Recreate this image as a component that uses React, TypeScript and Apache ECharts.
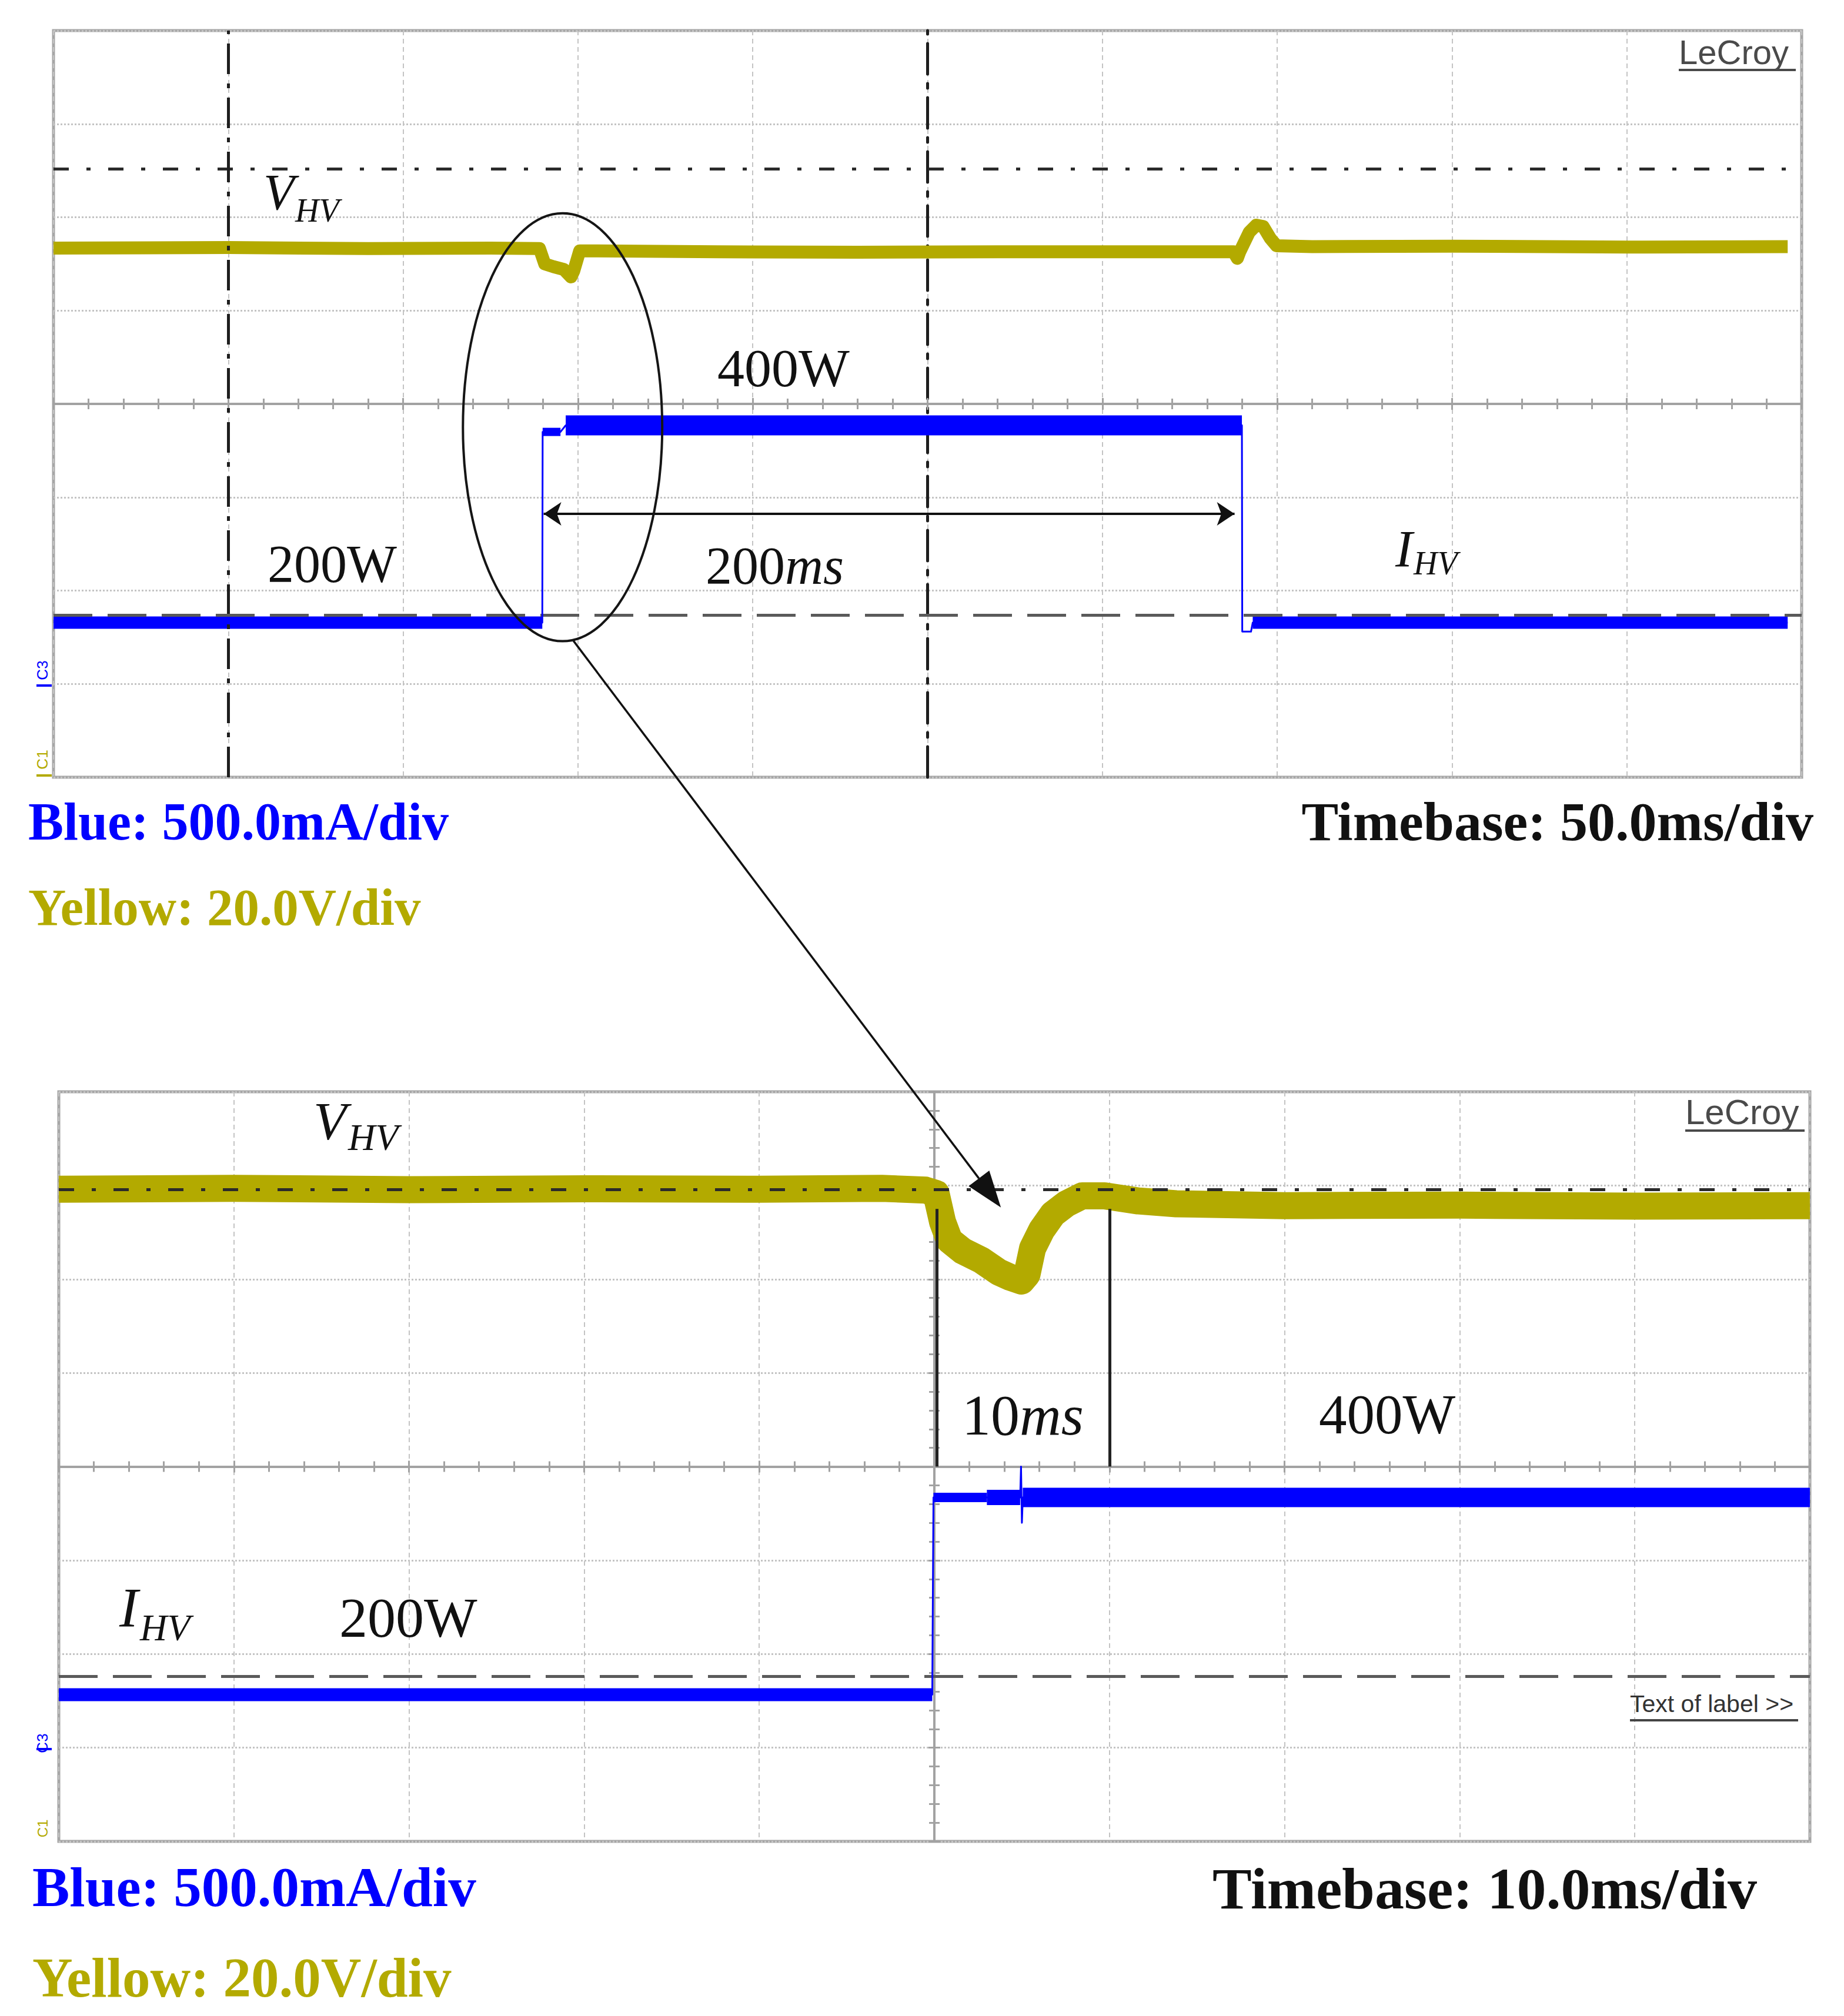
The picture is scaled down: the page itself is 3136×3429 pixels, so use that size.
import React, { useEffect, useRef } from "react";
import * as echarts from "echarts";

// ================= Top capture: Timebase 50 ms/div (time in ms, relative to screen centre) =================
const topTimeRange = [-250, 250];
const topTimeStep = 50;
const topVhvTime = [-250, -200, -160, -125, -111, -109.5, -107, -104, -102, -101.2, -99.5, -60, -20, 20, 60, 87.5, 88.6, 89.3, 92, 94, 96, 98, 99.8, 110, 150, 200, 246];
const topVhvVolt = [113.4, 113.5, 113.3, 113.4, 113.3, 110.0, 109.4, 108.8, 107.2, 108.5, 112.8, 112.6, 112.5, 112.6, 112.6, 112.6, 111.2, 112.6, 116.8, 118.3, 118.0, 115.5, 113.9, 113.7, 113.8, 113.6, 113.7];
const topIhvTime = [-250, -110.2, -110.1, -105, -103.5, 89.9, 90.0, 92.5, 93.0, 246];
const topIhvAmp = [0.328, 0.328, 1.35, 1.35, 1.385, 1.385, 0.28, 0.28, 0.328, 0.328];
const topVRefVolt = 130.3;
const topIRefAmp = 0.372;
const topCursorTime = -200;
const stepArrowTime = [-109.8, 87.8];
const stepArrowAmp = 0.911;
const ellipseCentre = [-104.4, 1.375];
const ellipseHalfSpan = [28.5, 1.146];
const zoomArrowFrom = [-101.3, 0.231]; // top capture (ms, A)
const zoomArrowTo = [3.8, 135.3]; // bottom capture (ms, V)

// ================= Bottom capture: Timebase 10 ms/div =================
const botTimeRange = [-50, 50];
const botTimeStep = 10;
const botVhvTime = [-50, -40, -30, -20, -10, -3, -0.5, 0.1, 0.47, 0.86, 1.63, 2.66, 3.68, 4.33, 4.97, 5.29, 5.61, 6.13, 6.77, 7.54, 8.44, 9.72, 11.65, 13.81, 20, 30, 40, 50];
const botVhvVolt = [139.2, 139.4, 139.1, 139.3, 139.2, 139.4, 139.0, 138.3, 132.2, 128.3, 126.0, 124.1, 121.5, 120.4, 119.6, 121.0, 126.6, 130.5, 133.9, 136.1, 137.8, 137.8, 136.7, 136.1, 135.7, 135.8, 135.6, 135.7];
const botIhvTime = [-50, -0.12, -0.05, 3, 4.9, 4.95, 5.0, 5.05, 50];
const botIhvAmp = [0.283, 0.283, 1.335, 1.335, 1.335, 1.50, 1.20, 1.335, 1.335];
const botVRefVolt = 139.2;
const botIRefAmp = 0.375;
const settleMarkTime = [0.15, 10.0];
const settleMarkVolt = [135, 80];

// ================= Vertical scales =================
const voltRange = [0, 160]; // 20 V/div x 8 div
const ampRange = [-0.5, 3.5]; // 500 mA/div x 8 div
const divRange = [-4, 4];

const YEL = "#b3aa00";
const BLU = "#0000ff";
const GRID_LINE = "#c4c4c4";
const AXIS_GRAY = "#a2a2a2";
const SERIF = '"Liberation Serif", "Times New Roman", serif';
const SANS = '"Liberation Sans", Arial, sans-serif';

const zip = (t: number[], v: number[]) => t.map((x, i) => [x, v[i]]);
const seg = (t: number[], v: number[], a: number, b: number) => zip(t.slice(a, b + 1), v.slice(a, b + 1));

function timeAxis(gridIndex: number, range: number[], step: number, inside: boolean, split: boolean, onZeroAxisIndex: number) {
  return {
    type: "value",
    gridIndex,
    position: "bottom",
    min: range[0],
    max: range[1],
    interval: step,
    axisLabel: { show: false },
    axisLine: { show: true, onZero: true, onZeroAxisIndex, lineStyle: { color: AXIS_GRAY, width: 4 } },
    axisTick: { show: true, inside, length: 10, lineStyle: { color: AXIS_GRAY, width: 3 } },
    minorTick: { show: true, splitNumber: 5, length: 9, lineStyle: { color: AXIS_GRAY, width: 3 } },
    splitLine: { show: split, lineStyle: { color: GRID_LINE, width: 2, type: [8, 6] } },
    minorSplitLine: { show: false },
  };
}

function divAxis(gridIndex: number, opts: any) {
  return {
    type: "value",
    gridIndex,
    position: "left",
    min: divRange[0],
    max: divRange[1],
    interval: 1,
    axisLabel: { show: false },
    axisLine: { show: true, onZero: true, onZeroAxisIndex: opts.onZeroAxisIndex, lineStyle: opts.lineStyle },
    axisTick: { show: opts.ticks, inside: opts.inside, length: 10, lineStyle: { color: AXIS_GRAY, width: 3 } },
    minorTick: { show: opts.ticks, splitNumber: 5, length: 9, lineStyle: { color: AXIS_GRAY, width: 3 } },
    splitLine: { show: opts.split, lineStyle: { color: GRID_LINE, width: 3, type: "dotted" } },
  };
}

function hiddenAxis(gridIndex: number, range: number[]) {
  return { type: "value", gridIndex, show: false, min: range[0], max: range[1], splitLine: { show: false }, axisLine: { onZero: false } };
}

function line(name: string, xAxisIndex: number, yAxisIndex: number, data: any[], color: string, width: number, z: number, extra: any = {}) {
  return {
    type: "line",
    name,
    xAxisIndex,
    yAxisIndex,
    data,
    symbol: "none",
    showSymbol: false,
    silent: true,
    z,
    emphasis: { disabled: true },
    lineStyle: { color, width, join: "round", cap: "butt" },
    ...extra,
  };
}

const DASHDOT_H = { color: "#2a2a2a", width: 5, type: [26, 30, 7, 30] };
const DASHDOT_V = { color: "#1e1e1e", width: 5, type: [52, 16, 8, 16] };
const DASHED_GRAY = { color: "#5a5a5a", width: 5, type: [66, 26] };

function buildOption() {
  return {
    animation: false,
    backgroundColor: "#ffffff",
    grid: [
      { left: 91, top: 52, width: 2973, height: 1270, show: true, borderColor: "#a6a6a6", borderWidth: 5, backgroundColor: "transparent" },
      { left: 100, top: 1857, width: 2978, height: 1275, show: true, borderColor: "#a6a6a6", borderWidth: 5, backgroundColor: "transparent" },
    ],
    xAxis: [
      timeAxis(0, topTimeRange, topTimeStep, false, true, 0),
      timeAxis(0, topTimeRange, topTimeStep, true, false, 0),
      timeAxis(1, botTimeRange, botTimeStep, false, true, 3),
      timeAxis(1, botTimeRange, botTimeStep, true, false, 3),
    ],
    yAxis: [
      divAxis(0, { onZeroAxisIndex: 0, lineStyle: DASHDOT_V, ticks: false, inside: false, split: true }),
      hiddenAxis(0, voltRange),
      hiddenAxis(0, ampRange),
      divAxis(1, { onZeroAxisIndex: 2, lineStyle: { color: AXIS_GRAY, width: 4 }, ticks: true, inside: false, split: true }),
      hiddenAxis(1, voltRange),
      hiddenAxis(1, ampRange),
      divAxis(1, { onZeroAxisIndex: 2, lineStyle: { color: AXIS_GRAY, width: 4 }, ticks: true, inside: true, split: false }),
    ],
    series: [
      // ---------- top capture ----------
      line("V_HV top", 0, 1, zip(topVhvTime, topVhvVolt), YEL, 22, 3, {
        markLine: {
          silent: true,
          symbol: "none",
          label: { show: false },
          data: [
            { yAxis: topVRefVolt, lineStyle: DASHDOT_H },
            { xAxis: topCursorTime, lineStyle: DASHDOT_V },
          ],
        },
      }),
      line("I_HV top", 0, 2, zip(topIhvTime, topIhvAmp), BLU, 3, 5, {
        markLine: {
          silent: true,
          symbol: ["arrow", "arrow"],
          symbolSize: 30,
          label: { show: false },
          lineStyle: { color: "#111", width: 4, type: "solid" },
          data: [
            [
              { coord: [stepArrowTime[0], stepArrowAmp] },
              { coord: [stepArrowTime[1], stepArrowAmp] },
            ],
          ],
        },
      }),
      line("I_HV top band a", 0, 2, seg(topIhvTime, topIhvAmp, 0, 1), BLU, 21, 4, {
        markLine: {
          silent: true,
          symbol: "none",
          label: { show: false },
          data: [{ yAxis: topIRefAmp, lineStyle: DASHED_GRAY }],
        },
      }),
      line("I_HV top band b", 0, 2, seg(topIhvTime, topIhvAmp, 2, 3), BLU, 14, 4),
      line("I_HV top band c", 0, 2, seg(topIhvTime, topIhvAmp, 4, 5), BLU, 34, 4),
      line("I_HV top band d", 0, 2, seg(topIhvTime, topIhvAmp, 8, 9), BLU, 21, 4),
      // ---------- bottom capture ----------
      line("V_HV bottom", 2, 4, zip(botVhvTime, botVhvVolt), YEL, 46, 3, {
        markLine: {
          silent: true,
          symbol: "none",
          label: { show: false },
          data: [
            { yAxis: botVRefVolt, lineStyle: DASHDOT_H },
            [
              { coord: [settleMarkTime[0], settleMarkVolt[0]], lineStyle: { color: "#222", width: 5, type: "solid" } },
              { coord: [settleMarkTime[0], settleMarkVolt[1]] },
            ],
            [
              { coord: [settleMarkTime[1], settleMarkVolt[0]], lineStyle: { color: "#222", width: 5, type: "solid" } },
              { coord: [settleMarkTime[1], settleMarkVolt[1]] },
            ],
          ],
        },
      }),
      line("I_HV bottom", 2, 5, zip(botIhvTime, botIhvAmp), BLU, 3, 5, {
        markLine: {
          silent: true,
          symbol: "none",
          label: { show: false },
          data: [{ yAxis: botIRefAmp, lineStyle: DASHED_GRAY }],
        },
      }),
      line("I_HV bottom band a", 2, 5, seg(botIhvTime, botIhvAmp, 0, 1), BLU, 22, 4),
      line("I_HV bottom band b", 2, 5, seg(botIhvTime, botIhvAmp, 2, 3), BLU, 16, 4),
      line("I_HV bottom band c", 2, 5, seg(botIhvTime, botIhvAmp, 3, 4), BLU, 26, 4),
      line("I_HV bottom band d", 2, 5, seg(botIhvTime, botIhvAmp, 7, 8), BLU, 33, 4),
    ],
  };
}

function text(t: string, x: number, y: number, font: string, fill: string, align = "left", extra: any = {}) {
  return { type: "text", x, y, z: 100, silent: true, style: { text: t, font, fill, align, verticalAlign: "middle" }, ...extra };
}

function hline(x1: number, x2: number, y: number, stroke: string, w: number) {
  return { type: "line", z: 100, silent: true, shape: { x1, y1: y, x2, y2: y }, style: { stroke, lineWidth: w } };
}

function buildGraphics(chart: any) {
  const topA = { xAxisIndex: 0, yAxisIndex: 2 };
  const botV = { xAxisIndex: 2, yAxisIndex: 4 };
  const c = chart.convertToPixel(topA, ellipseCentre);
  const ex = chart.convertToPixel(topA, [ellipseCentre[0] + ellipseHalfSpan[0], ellipseCentre[1]]);
  const ey = chart.convertToPixel(topA, [ellipseCentre[0], ellipseCentre[1] + ellipseHalfSpan[1]]);
  const p1 = chart.convertToPixel(topA, zoomArrowFrom);
  const p2 = chart.convertToPixel(botV, zoomArrowTo);
  const dx = p2[0] - p1[0];
  const dy = p2[1] - p1[1];
  const len = Math.sqrt(dx * dx + dy * dy);
  const ux = dx / len;
  const uy = dy / len;
  const headL = 62;
  const headW = 22;
  const bx = p2[0] - ux * headL;
  const by = p2[1] - uy * headL;

  const italic = (s: number) => `italic ${s}px ${SERIF}`;
  const roman = (s: number) => `${s}px ${SERIF}`;
  const bold = (s: number) => `bold ${s}px ${SERIF}`;

  const els: any[] = [
    {
      type: "ellipse",
      z: 100,
      silent: true,
      shape: { cx: c[0], cy: c[1], rx: Math.abs(ex[0] - c[0]), ry: Math.abs(ey[1] - c[1]) },
      style: { fill: "none", stroke: "#151515", lineWidth: 4 },
    },
    { type: "line", z: 100, silent: true, shape: { x1: p1[0], y1: p1[1], x2: bx, y2: by }, style: { stroke: "#111", lineWidth: 3.5 } },
    {
      type: "polygon",
      z: 100,
      silent: true,
      shape: {
        points: [
          [p2[0], p2[1]],
          [bx - uy * headW, by + ux * headW],
          [bx + uy * headW, by - ux * headW],
        ],
      },
      style: { fill: "#111" },
    },

    // ---- top capture annotations ----
    text("V", 448, 327, italic(86), "#111"),
    text("HV", 502, 358, italic(56), "#111"),
    text("400W", 1220, 626, roman(92), "#111"),
    text("200W", 455, 959, roman(90), "#111"),
    {
      type: "text",
      x: 1200,
      y: 962,
      z: 100,
      silent: true,
      style: {
        text: "{a|200}{b|ms}",
        verticalAlign: "middle",
        align: "left",
        rich: {
          a: { font: roman(90), fill: "#111" },
          b: { font: italic(90), fill: "#111" },
        },
      },
    },
    text("I", 2373, 933, italic(88), "#111"),
    text("HV", 2404, 958, italic(56), "#111"),
    text("LeCroy", 2855, 88, `58px ${SANS}`, "#4a4a4a"),
    hline(2855, 3054, 119, "#4a4a4a", 4),
    text("C3", 72, 1140, `26px ${SANS}`, BLU, "center", { rotation: Math.PI / 2 }),
    hline(62, 88, 1166, BLU, 4),
    text("C1", 72, 1292, `26px ${SANS}`, YEL, "center", { rotation: Math.PI / 2 }),
    hline(62, 88, 1319, YEL, 4),

    text("Blue: 500.0mA/div", 48, 1397, bold(90), BLU),
    text("Yellow: 20.0V/div", 48, 1543, bold(89), YEL),
    text("Timebase: 50.0ms/div", 3084, 1397, bold(94), "#111", "right"),

    // ---- bottom capture annotations ----
    text("V", 533, 1907, italic(92), "#111"),
    text("HV", 592, 1934, italic(64), "#111"),
    {
      type: "text",
      x: 1636,
      y: 2407,
      z: 100,
      silent: true,
      style: {
        text: "{a|10}{b|ms}",
        verticalAlign: "middle",
        align: "left",
        rich: {
          a: { font: roman(98), fill: "#111" },
          b: { font: italic(98), fill: "#111" },
        },
      },
    },
    text("400W", 2243, 2406, roman(95), "#111"),
    text("I", 203, 2734, italic(96), "#111"),
    text("HV", 238, 2768, italic(64), "#111"),
    text("200W", 577, 2751, roman(96), "#111"),
    text("LeCroy", 2866, 1891, `60px ${SANS}`, "#4a4a4a"),
    hline(2866, 3069, 1923, "#4a4a4a", 4),
    text("Text of label >>", 2772, 2898, `41px ${SANS}`, "#333"),
    hline(2772, 3058, 2926, "#444", 4),
    text("C3", 72, 2965, `26px ${SANS}`, BLU, "center", { rotation: Math.PI / 2 }),
    hline(62, 88, 2975, BLU, 4),
    text("C1", 72, 3110, `24px ${SANS}`, YEL, "center", { rotation: Math.PI / 2 }),

    text("Blue: 500.0mA/div", 55, 3210, bold(95), BLU),
    text("Yellow: 20.0V/div", 55, 3364, bold(95), YEL),
    text("Timebase: 10.0ms/div", 2062, 3212, bold(100), "#111"),
  ];
  return els;
}

export default function App() {
  const ref = useRef<HTMLDivElement>(null);
  useEffect(() => {
    document.body.style.margin = "0";
    const chart = echarts.init(ref.current as HTMLDivElement, undefined, { renderer: "svg" });
    chart.setOption(buildOption() as any);
    chart.setOption({ graphic: buildGraphics(chart) } as any);
    return () => chart.dispose();
  }, []);
  return <div ref={ref} style={{ width: 3136, height: 3429, background: "#ffffff" }} />;
}
